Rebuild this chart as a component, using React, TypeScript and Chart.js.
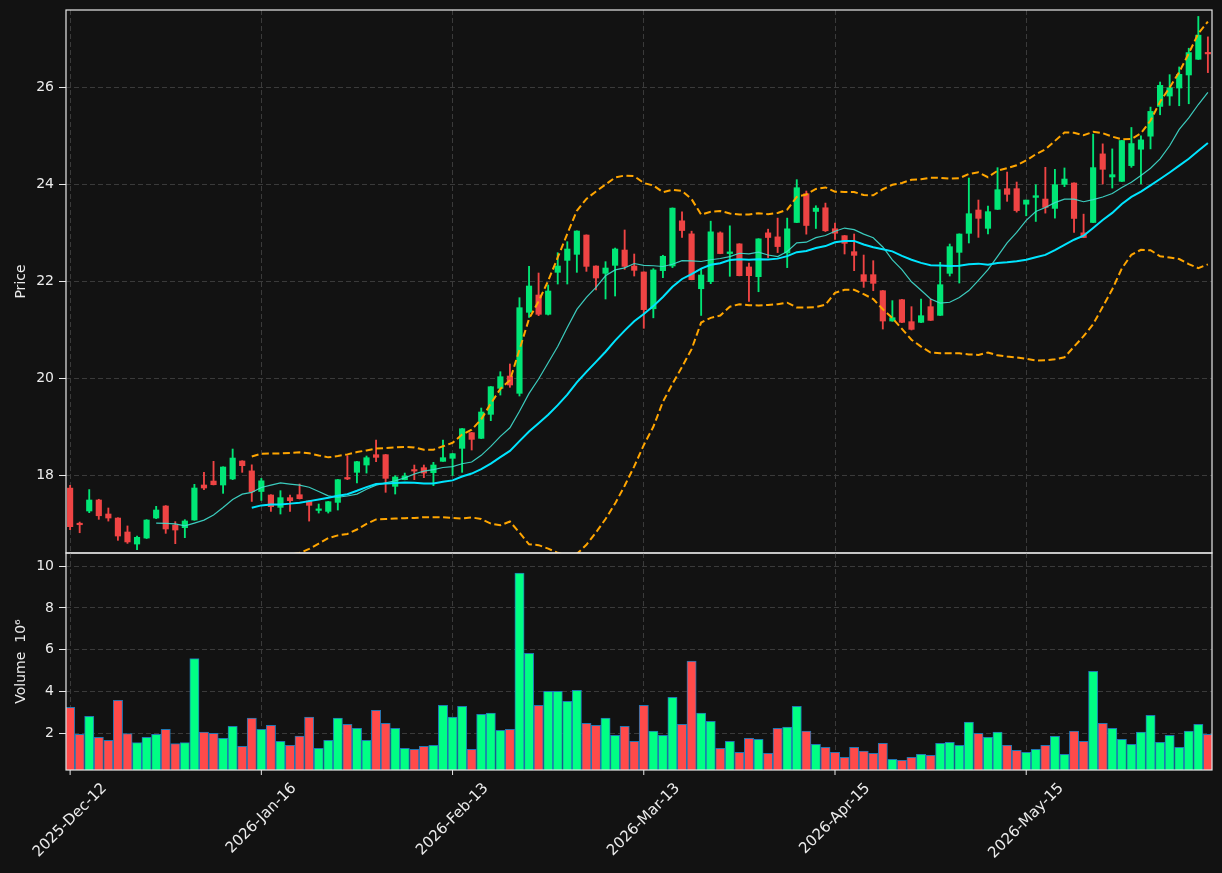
import React, { useEffect, useRef } from "react";
import { Chart, registerables } from "chart.js";

Chart.register(...registerables);

// ---------- data ----------
const tickIndices = [0, 20, 40, 60, 80, 100];
const tickLabels = ["2025-Dec-12", "2026-Jan-16", "2026-Feb-13", "2026-Mar-13", "2026-Apr-15", "2026-May-15"];
const priceTicks = [18, 20, 22, 24, 26];
const volumeTicks = [2, 4, 6, 8, 10];

const opens = [
  17.73, 16.985, 17.258, 17.485, 17.196, 17.113, 16.825, 16.577, 16.7, 17.113,
  17.361, 16.969, 16.914, 17.072, 17.794, 17.876, 17.794, 17.918, 18.289, 18.085,
  17.66, 17.588, 17.333, 17.533, 17.594, 17.464, 17.27, 17.25, 17.436, 17.931,
  18.055, 18.206, 18.419, 18.419, 17.766, 17.904, 18.096, 18.151, 18.048, 18.282,
  18.344, 18.55, 18.873, 18.756, 19.251, 19.787, 20.041, 19.684, 21.354, 21.711,
  21.313, 22.179, 22.426, 22.55, 22.948, 22.309, 22.158, 22.323, 22.639, 22.309,
  22.186, 21.428, 22.214, 22.31, 23.241, 22.972, 21.841, 21.986, 22.993, 22.566,
  22.766, 22.29, 22.09, 22.993, 22.91, 22.579, 23.207, 23.8, 23.434, 23.51,
  23.078, 22.935, 22.605, 22.131, 22.131, 21.8, 21.175, 21.615, 21.162, 21.148,
  21.471, 21.292, 22.158, 22.591, 22.983, 23.464, 23.086, 23.478, 23.904, 23.904,
  23.584, 23.724, 23.69, 23.497, 23.993, 24.021, 22.993, 23.207, 24.621, 24.145,
  24.055, 24.379, 24.717, 24.986, 25.6, 25.814, 25.979, 26.248, 26.572, 26.71,
];
const highs = [
  17.787, 17.03, 17.7, 17.5, 17.32, 17.12, 16.95, 16.742, 17.08, 17.354,
  17.37, 17.038, 17.079, 17.808, 18.055, 18.282, 18.17, 18.536, 18.295, 18.21,
  17.93, 17.595, 17.677, 17.588, 17.814, 17.47, 17.402, 17.455, 17.91, 18.4,
  18.28, 18.392, 18.722, 18.425, 17.986, 18.04, 18.206, 18.206, 18.261, 18.722,
  18.445, 18.96, 18.878, 19.381, 19.825, 20.13, 20.289, 21.656, 22.302, 22.165,
  21.918, 22.584, 22.811, 23.035, 22.952, 22.313, 22.399, 22.68, 23.052, 22.557,
  22.19, 22.255, 22.531, 23.507, 23.428, 23.028, 22.241, 23.234, 23.014, 23.138,
  22.77, 22.372, 22.873, 23.069, 23.297, 23.297, 24.09, 23.855, 23.552, 23.607,
  23.195, 22.94, 22.969, 22.536, 22.419, 21.805, 21.595, 21.62, 21.471, 21.629,
  21.629, 22.385, 22.763, 22.973, 24.124, 23.67, 23.546, 24.337, 24.247, 24.041,
  23.67, 23.986, 24.345, 24.303, 24.331, 24.025, 23.379, 25.028, 24.828, 24.724,
  24.9, 25.166, 24.993, 25.586, 26.103, 26.255, 26.414, 26.8, 27.455, 27.034,
];
const lows = [
  16.873, 16.81, 17.223, 17.086, 17.05, 16.653, 16.59, 16.46, 16.69, 17.1,
  16.797, 16.584, 16.708, 17.065, 17.698, 17.795, 17.622, 17.904, 18.055, 17.455,
  17.475, 17.25, 17.196, 17.25, 17.505, 17.05, 17.216, 17.216, 17.278, 17.904,
  17.835, 18.04, 18.275, 17.643, 17.608, 17.9, 17.904, 17.945, 17.78, 18.278,
  17.99, 18.055, 18.515, 18.75, 19.12, 19.649, 19.808, 19.629, 21.251, 21.285,
  21.299, 21.938, 21.938, 22.179, 22.199, 21.814, 21.629, 21.691, 22.24, 22.103,
  21.025, 21.241, 22.069, 22.276, 22.897, 22.024, 21.29, 21.945, 22.562, 22.097,
  22.106, 21.579, 21.779, 22.483, 22.586, 22.276, 23.203, 22.966, 23.083, 23.02,
  22.857, 22.557, 22.213, 21.869, 21.8, 21.01, 21.17, 21.143, 20.99, 21.143,
  21.185, 21.288, 22.103, 21.959, 22.784, 22.9, 22.969, 23.474, 23.643, 23.42,
  23.345, 23.228, 23.4, 23.297, 23.945, 23.0, 22.893, 23.203, 24.0, 23.917,
  24.05, 24.345, 24.0, 24.724, 25.428, 25.621, 25.614, 25.655, 26.568, 26.297,
];
const closes = [
  16.935, 16.975, 17.485, 17.16, 17.113, 16.742, 16.62, 16.715, 17.072, 17.278,
  16.887, 16.866, 17.052, 17.732, 17.732, 17.8, 18.165, 18.35, 18.192, 17.655,
  17.88, 17.347, 17.533, 17.471, 17.512, 17.375, 17.285, 17.45, 17.904, 17.918,
  18.275, 18.357, 18.364, 17.931, 17.959, 17.98, 18.082, 18.041, 18.206, 18.357,
  18.44, 18.955, 18.735, 19.299, 19.821, 20.027, 19.856, 21.45, 21.897, 21.313,
  21.794, 22.309, 22.66, 23.031, 22.302, 22.062, 22.268, 22.66, 22.302, 22.22,
  21.41, 22.228, 22.51, 23.503, 23.041, 22.028, 22.124, 23.014, 22.566, 22.6,
  22.11, 22.11, 22.869, 22.897, 22.71, 23.076, 23.924, 23.145, 23.503, 23.036,
  22.985, 22.777, 22.529, 21.993, 21.952, 21.175, 21.244, 21.148, 21.003, 21.285,
  21.189, 21.924, 22.708, 22.969, 23.388, 23.292, 23.43, 23.883, 23.787, 23.452,
  23.669, 23.759, 23.517, 23.986, 24.103, 23.29, 22.897, 24.338, 24.303, 24.193,
  24.897, 24.834, 24.91, 25.497, 26.034, 25.986, 26.262, 26.71, 27.069, 26.683,
];
// volume in millions (10^6)
const volumes = [
  3.245, 1.95, 2.81, 1.81, 1.665, 3.58, 1.98, 1.553, 1.81, 1.95,
  2.19, 1.505, 1.553, 5.575, 2.05, 2.0, 1.76, 2.335, 1.377, 2.72,
  2.19, 2.38, 1.617, 1.425, 1.87, 2.77, 1.28, 1.665, 2.72, 2.43,
  2.24, 1.665, 3.1, 2.48, 2.24, 1.28, 1.234, 1.377, 1.425, 3.34,
  2.77, 3.29, 1.234, 2.91, 2.96, 2.14, 2.19, 9.665, 5.83, 3.34,
  4.01, 4.01, 3.53, 4.06, 2.48, 2.38, 2.72, 1.9, 2.335, 1.617,
  3.34, 2.1, 1.9, 3.72, 2.43, 5.45, 2.96, 2.575, 1.28, 1.617,
  1.09, 1.76, 1.71, 1.04, 2.24, 2.29, 3.29, 2.1, 1.47, 1.33,
  1.09, 0.85, 1.33, 1.14, 1.04, 1.52, 0.755, 0.707, 0.85, 0.994,
  0.946, 1.52, 1.57, 1.425, 2.53, 2.0, 1.81, 2.05, 1.425, 1.186,
  1.09, 1.234, 1.425, 1.856, 0.994, 2.1, 1.617, 4.97, 2.48, 2.24,
  1.71, 1.47, 2.05, 2.86, 1.57, 1.9, 1.33, 2.1, 2.43, 1.95,
];

const MA_SHORT = 10;
const MA_LONG = 20;

// ---------- styling ----------
const BG = "#121212";
const TEXT = "#ececec";
const GRID = "#3a3a3a";
const UP = "#00e676";
const DOWN = "#ef4444";
const VOL_UP = "#00ff84";
const VOL_DOWN = "#ff4a4a";
const VOL_EDGE = "#1f77b4";
const FONT = "DejaVu Sans";

const X_MIN = -0.43;
const X_MAX = 119.43;

function rollingMean(values: number[], n: number): (number | null)[] {
  return values.map((_, i) => {
    if (i < n - 1) return null;
    let s = 0;
    for (let k = i - n + 1; k <= i; k++) s += values[k];
    return s / n;
  });
}
function rollingStd(values: number[], n: number): (number | null)[] {
  const m = rollingMean(values, n);
  return values.map((_, i) => {
    if (i < n - 1) return null;
    let s = 0;
    for (let k = i - n + 1; k <= i; k++) s += (values[k] - (m[i] as number)) ** 2;
    return Math.sqrt(s / (n - 1));
  });
}

const framePlugin = {
  id: "frame",
  afterDraw(chart: any) {
    const { ctx, chartArea: a } = chart;
    ctx.save();
    ctx.strokeStyle = "#e8e8e8";
    ctx.lineWidth = 1.2;
    ctx.strokeRect(a.left, a.top, a.right - a.left, a.bottom - a.top);
    ctx.restore();
  },
};

const xLabelPlugin = {
  id: "xlabels",
  afterDraw(chart: any) {
    const { ctx, chartArea: a } = chart;
    const xs = chart.scales.x;
    ctx.save();
    ctx.strokeStyle = "#e8e8e8";
    ctx.fillStyle = TEXT;
    ctx.lineWidth = 1;
    ctx.font = `15px "${FONT}"`;
    tickIndices.forEach((v, k) => {
      const px = xs.getPixelForValue(v);
      ctx.beginPath();
      ctx.moveTo(px, a.bottom);
      ctx.lineTo(px, a.bottom + 5);
      ctx.stroke();
      const label = tickLabels[k];
      const w = ctx.measureText(label).width;
      const h = 17;
      const hb = (w + h) * Math.SQRT1_2;
      ctx.save();
      ctx.translate(px, a.bottom + 10 + hb / 2);
      ctx.rotate(-Math.PI / 4);
      ctx.textAlign = "center";
      ctx.textBaseline = "middle";
      ctx.fillText(label, 0, 0);
      ctx.restore();
    });
    ctx.restore();
  },
};

function yAxis(min: number, max: number, ticks: number[], title: string) {
  return {
    type: "linear",
    position: "left",
    min,
    max,
    afterBuildTicks: (s: any) => {
      s.ticks = ticks.map((v) => ({ value: v }));
    },
    afterFit: (s: any) => {
      s.width = 66;
      s.paddingTop = 0;
      s.paddingBottom = 0;
    },
    ticks: {
      color: TEXT,
      font: { family: FONT, size: 14 },
      padding: 5,
      callback: (v: any) => String(v),
    },
    grid: {
      color: GRID,
      lineWidth: 1,
      tickColor: "#e8e8e8",
      tickLength: 7,
      tickWidth: 1,
      tickBorderDash: [],
    },
    border: { display: false, dash: [5, 3] },
    title: {
      display: true,
      text: title,
      color: TEXT,
      font: { family: FONT, size: 14 },
      padding: { top: 13, bottom: 0 },
    },
  };
}

function xAxis(height: number) {
  return {
    type: "linear",
    min: X_MIN,
    max: X_MAX,
    offset: false,
    afterBuildTicks: (s: any) => {
      s.ticks = tickIndices.map((v) => ({ value: v }));
    },
    afterFit: (s: any) => {
      s.height = height;
      s.paddingLeft = 0;
      s.paddingRight = 0;
    },
    ticks: { display: false },
    grid: { color: GRID, lineWidth: 1, drawTicks: false, offset: false },
    border: { display: false, dash: [5, 3] },
  };
}

export default function App() {
  const priceRef = useRef<HTMLCanvasElement | null>(null);
  const volRef = useRef<HTMLCanvasElement | null>(null);

  useEffect(() => {
    Chart.defaults.font.family = FONT;
    const idx = closes.map((_, i) => i);
    const isUp = idx.map((i) => closes[i] >= opens[i]);
    const candleColors = isUp.map((u) => (u ? UP : DOWN));
    const volColors = isUp.map((u) => (u ? VOL_UP : VOL_DOWN));

    const maShort = rollingMean(closes, MA_SHORT);
    const maLong = rollingMean(closes, MA_LONG);
    const sd = rollingStd(closes, MA_LONG);
    const upper = maLong.map((m, i) => (m === null ? null : m + 2 * (sd[i] as number)));
    const lower = maLong.map((m, i) => (m === null ? null : m - 2 * (sd[i] as number)));
    const pts = (arr: (number | null)[]) => arr.map((v, i) => ({ x: i, y: v }));

    const common = {
      responsive: false,
      animation: false,
      events: [],
      plugins: { legend: { display: false }, tooltip: { enabled: false } },
    };

    const priceChart = new Chart(priceRef.current as HTMLCanvasElement, {
      type: "bar",
      data: {
        datasets: [
          {
            type: "line",
            data: pts(upper),
            borderColor: "#ffa500",
            borderWidth: 2,
            borderDash: [7, 3.5],
            pointRadius: 0,
            fill: false,
            order: 0,
          },
          {
            type: "line",
            data: pts(lower),
            borderColor: "#ffa500",
            borderWidth: 2,
            borderDash: [7, 3.5],
            pointRadius: 0,
            fill: false,
            order: 0,
          },
          {
            type: "line",
            data: pts(maLong),
            borderColor: "#00e5ff",
            borderWidth: 2,
            pointRadius: 0,
            fill: false,
            order: 0,
          },
          {
            type: "line",
            data: pts(maShort),
            borderColor: "rgba(64,224,208,0.9)",
            borderWidth: 1.2,
            pointRadius: 0,
            fill: false,
            order: 0,
          },
          {
            type: "bar",
            data: idx.map((i) => ({ x: i, y: [Math.min(opens[i], closes[i]), Math.max(opens[i], closes[i])] })),
            backgroundColor: candleColors,
            borderWidth: 0,
            barThickness: 5.5,
            minBarLength: 1.5,
            grouped: false,
            order: 1,
          },
          {
            type: "bar",
            data: idx.map((i) => ({ x: i, y: [lows[i], highs[i]] })),
            backgroundColor: candleColors,
            borderWidth: 0,
            barThickness: 1.2,
            grouped: false,
            order: 2,
          },
        ],
      },
      options: {
        ...common,
        layout: { padding: { left: 0, top: 10, right: 10, bottom: 873 - 553 } },
        scales: {
          x: xAxis(0),
          y: yAxis(16.392, 27.588, priceTicks, "Price"),
        },
      },
      plugins: [framePlugin],
    } as any);

    const volChart = new Chart(volRef.current as HTMLCanvasElement, {
      type: "bar",
      data: {
        datasets: [
          {
            type: "bar",
            data: idx.map((i) => ({ x: i, y: volumes[i] })),
            backgroundColor: volColors,
            borderColor: VOL_EDGE,
            borderWidth: 1,
            barThickness: 9.3,
            grouped: false,
            base: 0.24,
            clip: 0,
          },
        ],
      },
      options: {
        ...common,
        layout: { padding: { left: 0, top: 553, right: 10, bottom: 0 } },
        scales: {
          x: xAxis(873 - 770),
          y: yAxis(0.24, 10.63, volumeTicks, "Volume  10\u2076"),
        },
      },
      plugins: [framePlugin, xLabelPlugin],
    } as any);

    return () => {
      priceChart.destroy();
      volChart.destroy();
    };
  }, []);

  const canvasStyle: React.CSSProperties = { position: "absolute", left: 0, top: 0, width: 1222, height: 873 };
  return (
    <div style={{ position: "fixed", left: 0, top: 0, width: 1222, height: 873, background: BG, overflow: "hidden" }}>
      <canvas ref={priceRef} width={1222} height={873} style={canvasStyle} />
      <canvas ref={volRef} width={1222} height={873} style={canvasStyle} />
    </div>
  );
}
